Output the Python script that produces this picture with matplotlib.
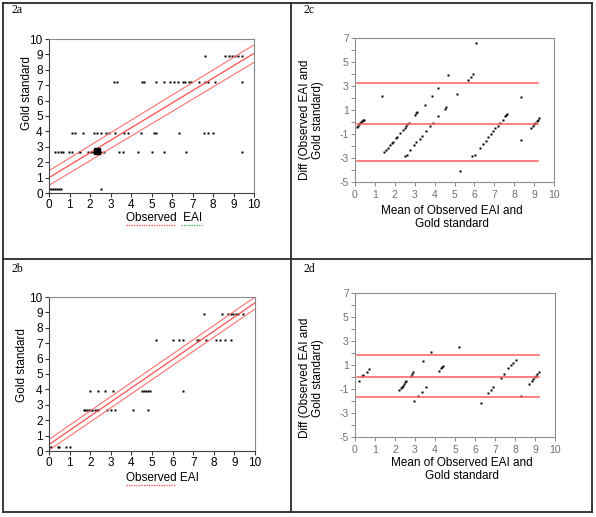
import numpy as np
import matplotlib
matplotlib.use("Agg")
import matplotlib.pyplot as plt
from matplotlib.lines import Line2D

plt.rcParams['font.family'] = ['Liberation Sans', 'DejaVu Sans']
plt.rcParams['axes.unicode_minus'] = False

W, H = 596, 517

# gold standard levels (rows of the scatter plots)
gold_levels = [0.25, 2.65, 3.87, 7.23, 8.9]

# 2a: observed EAI values on each gold standard row
a_row0 = [0.02, 0.1, 0.2, 0.3, 0.4, 0.5, 0.6, 2.52]
a_row1 = [0.29, 0.43, 0.58, 0.7, 0.99, 1.1, 1.44, 1.51, 1.91, 2.04, 2.15, 2.25,
          2.4, 2.56, 2.67, 3.4, 3.62, 4.32, 5.01, 5.62, 6.7, 9.4]
a_row2 = [1.1, 1.28, 1.68, 2.21, 2.35, 2.52, 2.8, 2.95, 3.2, 3.66, 3.87, 4.51,
          5.1, 5.2, 6.33, 7.55, 7.76, 8.02]
a_row3 = [3.16, 3.3, 4.52, 4.64, 5.2, 5.6, 5.9, 6.1, 6.3, 6.55, 6.63, 6.81,
          6.95, 7.3, 7.61, 7.75, 8.1, 9.4]
a_row4 = [7.61, 8.59, 8.78, 8.94, 9.07, 9.24, 9.4]
a_big = (2.32, 2.75)  # heavy overlapping cluster

# 2a regression line and confidence band (values at x = 0 and x = 10)
line_x = [0, 10]
a_fit = [1.0, 9.07]
a_upper = [1.45, 9.62]
a_lower = [0.5, 8.48]

# 2b
b_row0 = [0.0, 0.1, 0.43, 0.5, 0.82, 1.01]
b_row1 = [1.68, 1.76, 1.85, 1.93, 2.02, 2.11, 2.21, 2.33, 2.4, 2.81, 3.03,
          3.18, 4.08, 4.82]
b_row2 = [2.0, 2.4, 2.7, 3.11, 4.5, 4.6, 4.7, 4.8, 4.9, 6.52]
b_row3 = [5.19, 6.03, 6.31, 6.52, 7.2, 7.3, 7.6, 8.12, 8.32, 8.54, 8.82]
b_row4 = [7.54, 8.41, 8.71, 8.83, 8.95, 9.06, 9.19, 9.4]
b_fit = [0.42, 9.62]
b_upper = [0.75, 10.0]
b_lower = [0.05, 9.22]

# 2c: Bland-Altman (mean, diff)
c_mean = [0.12, 0.17, 0.22, 0.27, 0.32, 0.36, 0.40, 0.43, 1.37,
          1.47, 1.56, 1.66, 1.78, 1.86, 1.93, 2.06, 2.12, 2.27, 2.41, 2.49, 2.56, 2.63, 2.71,
          2.5, 2.61, 2.78, 2.96, 3.08, 3.25, 3.36, 3.56, 3.79, 3.9,
          3.0, 3.07, 3.14, 3.52, 3.85, 4.15, 4.17, 4.52, 4.57, 4.69, 5.11, 5.28,
          5.7, 5.81, 5.91, 6.06,
          5.9, 6.02, 6.27, 6.42, 6.58, 6.7, 6.82, 6.95, 7.06, 7.18, 7.28, 7.42,
          7.55, 7.6, 7.65,
          8.34, 8.32, 8.83, 8.93, 8.99, 9.06, 9.13, 9.18, 9.23]
c_diff = [-0.4, -0.3, -0.2, -0.1, 0.0, 0.07, 0.15, 0.2, 2.14,
          -2.54, -2.35, -2.17, -1.9, -1.75, -1.65, -1.33, -1.22, -0.95, -0.63, -0.5, -0.36, -0.2, -0.11,
          -2.85, -2.72, -2.3, -1.9, -1.68, -1.4, -1.15, -0.78, -0.3, -0.1,
          0.6, 0.75, 0.85, 1.44, 2.19, 2.83, 0.5, 1.08, 1.22, 3.94, 2.33, -4.11,
          3.53, 3.78, 4.0, 6.61,
          -2.85, -2.72, -2.18, -1.84, -1.55, -1.25, -1.0, -0.75, -0.5, -0.3, -0.1, 0.2,
          0.5, 0.62, 0.69,
          2.06, -1.5, -0.53, -0.31, -0.17, -0.08, 0.06, 0.19, 0.33]
c_limits = [3.22, -0.17, -3.22]

# 2d
d_mean = [0.2, 0.37, 0.42, 0.58, 0.68,
          2.22, 2.28, 2.33, 2.38, 2.45, 2.5, 2.55,
          2.8, 2.87, 2.92, 2.95, 3.17, 3.33, 3.42, 3.55, 3.78,
          4.2, 4.28, 4.35, 4.42, 5.2, 6.28, 6.65, 6.8, 6.88, 7.28, 7.45, 7.67,
          7.8, 7.88, 8.05, 8.28,
          8.7, 8.83, 8.92, 9.0, 9.05, 9.12, 9.18]
d_diff = [-0.33, 0.1, 0.19, 0.45, 0.66,
          -1.06, -0.94, -0.86, -0.72, -0.58, -0.44, -0.36,
          0.06, 0.26, 0.45, -1.98, -1.57, -1.23, 1.33, -0.82, 2.05,
          0.53, 0.72, 0.86, 0.94, 2.52, -2.13, -1.32, -1.08, -0.82, -0.12, 0.28, 0.72,
          1.0, 1.17, 1.44, -1.57,
          -0.6, -0.31, -0.17, -0.03, 0.11, 0.25, 0.39]
d_limits = [1.8, -0.03, -1.64]
limit_span = [0.1, 9.2]

fig = plt.figure(figsize=(W / 100, H / 100), dpi=100)


def add_axes_px(x0, x1, y0, y1):
    return fig.add_axes([x0 / W, 1 - y1 / H, (x1 - x0) / W, (y1 - y0) / H])


def border(x0, y0, x1, y1):
    fig.add_artist(Line2D([x0 / W, x1 / W], [1 - y0 / H, 1 - y1 / H],
                          transform=fig.transFigure, color='#2a2a2a', lw=1.3))


# table grid
border(3, 3, 592, 3)
border(3, 512, 592, 512)
border(3, 3, 3, 512)
border(592, 3, 592, 512)
border(291, 3, 291, 512)
border(3, 259, 592, 259)

for lab, x, y in [('2a', 12, 10), ('2c', 303, 10), ('2b', 12, 269), ('2d', 303, 269)]:
    fig.text(x / W, 1 - y / H, lab, family='Liberation Serif', fontsize=8.5,
             ha='left', va='center')


def scatter_panel(ax, rows, fit, upper, lower, xlab, xl_pos, yl_pos):
    for level, row in zip(gold_levels, rows):
        ax.plot(row, np.full(len(row), level), ls='none', marker='s', ms=1.6,
                mec='none', color='black')
    ax.plot(line_x, fit, color='#ff4d4d', lw=0.9)
    ax.plot(line_x, upper, color='#ff7070', lw=0.8)
    ax.plot(line_x, lower, color='#ff7070', lw=0.8)
    ax.set_xlim(0, 10)
    ax.set_ylim(0, 10)
    ax.set_xticks(range(11))
    ax.set_yticks(range(11))
    ax.tick_params(direction='out', length=3, width=0.8, pad=1.5, labelsize=8.5,
                   colors='#333333', labelcolor='black')
    for s in ax.spines.values():
        s.set_color('#8a8a8a')
        s.set_linewidth(0.8)
    ax.spines['left'].set_color('#444444')
    ax.spines['bottom'].set_color('#444444')
    ax.set_xlabel(xlab, fontsize=8.5)
    ax.xaxis.set_label_coords(*xl_pos)
    ax.xaxis.label.set_va('center')
    ax.set_ylabel('Gold standard', fontsize=8.5)
    ax.yaxis.set_label_coords(*yl_pos)
    ax.yaxis.label.set_va('center')


def ba_panel(ax, mean, diff, limits, xl_pos, yl_pos):
    ax.plot(mean, diff, ls='none', marker='s', ms=1.6, mec='none', color='black')
    for v in limits:
        ax.plot(limit_span, [v, v], color='#ff5c5c', lw=1.1)
    ax.set_xlim(0, 10)
    ax.set_ylim(-5, 7)
    ax.set_xticks(range(11))
    ax.set_yticks([-5, -3, -1, 1, 3, 5, 7])
    ax.set_yticks(range(-5, 8), minor=True)
    ax.tick_params(direction='out', length=3, width=0.7, pad=1.5, labelsize=7.5,
                   colors='#888888', labelcolor='#707070')
    ax.tick_params(axis='y', which='minor', direction='out', length=3, width=0.7,
                   colors='#888888')
    ax.tick_params(axis='x', pad=3)
    for s in ax.spines.values():
        s.set_color('#8f8f8f')
        s.set_linewidth(0.8)
    ax.set_xlabel('Mean of Observed EAI and\nGold standard', fontsize=8.5,
                  linespacing=1.1)
    ax.xaxis.set_label_coords(*xl_pos)
    ax.xaxis.label.set_va('center')
    ax.set_ylabel('Diff (Observed EAI and\nGold standard)', fontsize=8.5,
                  linespacing=1.1)
    ax.yaxis.set_label_coords(*yl_pos)
    ax.yaxis.label.set_va('center')


ax_a = add_axes_px(49, 254, 39, 193)
scatter_panel(ax_a, [a_row0, a_row1, a_row2, a_row3, a_row4], a_fit, a_upper,
              a_lower, 'Observed  EAI', (0.56, -0.16), (-0.105, 0.65))
ax_a.plot([a_big[0]], [a_big[1]], ls='none', marker='s', ms=4.5, color='black')

ax_b = add_axes_px(49, 255, 297, 451)
scatter_panel(ax_b, [b_row0, b_row1, b_row2, b_row3, b_row4], b_fit, b_upper,
              b_lower, 'Observed EAI', (0.55, -0.178), (-0.13, 0.56))

ax_c = add_axes_px(355, 554, 38, 182)
ba_panel(ax_c, c_mean, c_diff, c_limits, (0.487, -0.247), (-0.22, 0.43))

ax_d = add_axes_px(355, 555, 293, 437)
ba_panel(ax_d, d_mean, d_diff, d_limits, (0.535, -0.226), (-0.218, 0.41))

# spell-check squiggles under the x labels
fig.canvas.draw()
renderer = fig.canvas.get_renderer()
for ax, parts in [(ax_a, [('Observed', '#ff4040'), ('EAI', '#3cb043')]),
                  (ax_b, [('Observed', '#ff4040')])]:
    lab = ax.xaxis.label
    bb = lab.get_window_extent(renderer)
    tmp = fig.text(0, 0, 'Observed', fontsize=8.5)
    wobs = tmp.get_window_extent(renderer).width
    tmp.remove()
    yline = bb.y0 - 1
    segs = [(bb.x0, bb.x0 + wobs), (bb.x1 - wobs * 0.42, bb.x1)]
    for (name, col), (x0, x1) in zip(parts, segs):
        fig.add_artist(Line2D([x0 / W, x1 / W], [yline / H, yline / H],
                              transform=fig.transFigure, color=col, lw=0.9,
                              ls=(0, (1, 1))))

fig.savefig('out.png', dpi=100, facecolor='white')
